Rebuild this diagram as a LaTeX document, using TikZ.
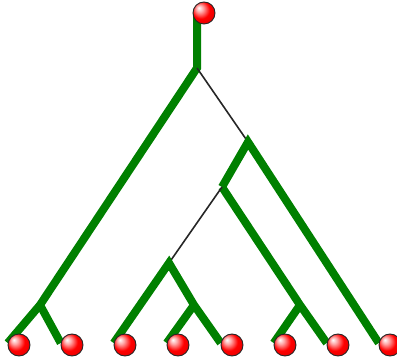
\documentclass[tikz,border=0pt]{standalone}
\usetikzlibrary{backgrounds}
\definecolor{branchgreen}{RGB}{0,128,0}
\pgfdeclareradialshading{redball}{\pgfpoint{-12bp}{12bp}}{%
  color(0bp)=(white); color(8bp)=(red!35!white); color(20bp)=(red);
  color(32bp)=(red!90!black); color(50bp)=(red!70!black)}

\begin{document}
\begin{tikzpicture}[
  x=1pt, y=-1pt,
  leaf/.style={circle, inner sep=0pt, minimum size=22pt,
               shading=redball, draw=black!85, line width=0.9pt},
  kept/.style={draw=branchgreen, line width=8pt, line join=miter},
  lost/.style={draw=black!85, line width=1.6pt}
]
\useasboundingbox (0,0) rectangle (397,363);
% inner vertices of the tree
\coordinate (a) at (197,68);
\coordinate (b) at (248,142);
\coordinate (c) at (222,187);
\coordinate (d) at (300,305);
\coordinate (e) at (169,263);
\coordinate (f) at (194,305);
\coordinate (g) at (40,305);
% leaves
\node[leaf] (r) at (204,13) {};
\foreach \x [count=\i] in {19,72,125,178,232,285,338,390}
  \node[leaf] (l\i) at (\x,345) {};
\begin{scope}[on background layer]
\draw[kept] (a |- r.center) -- (a) -- (g) -- (l1.170);
\draw[kept] (g) -- (l2.170);
\draw[lost] (a) -- (b);
\draw[kept] (c) -- (b) -- (l8.170);
\draw[kept] (c) -- (d) -- (l7.170);
\draw[kept] (d) -- (l6.170);
\draw[lost] (c) -- (e);
\draw[kept] (l3.170) -- (e) -- (f) -- (l5.170);
\draw[kept] (f) -- (l4.170);
\end{scope}
\end{tikzpicture}
\end{document}
